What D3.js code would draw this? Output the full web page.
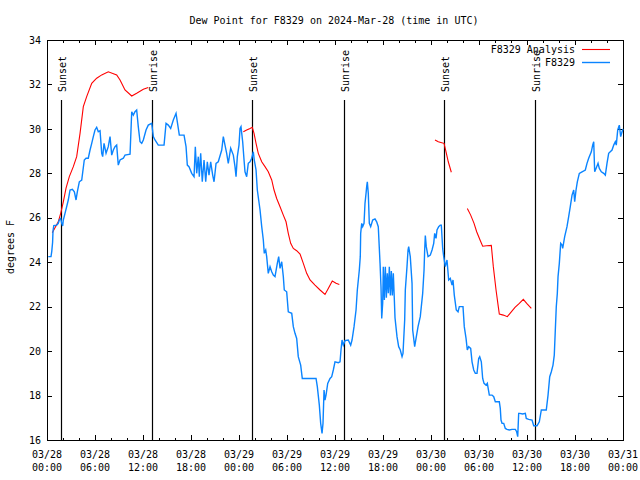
<!DOCTYPE html>
<html><head><meta charset="utf-8">
<script src="https://cdn.jsdelivr.net/npm/d3@7"></script>
<style>
body{margin:0;background:#fff}
text{font-family:"DejaVu Sans Mono",monospace;font-size:10px;fill:#000}
</style>
</head><body>
<svg id="c" width="640" height="480"></svg>
<script>
const title = "Dew Point for F8329 on 2024-Mar-28 (time in UTC)";
const yLabel = "degrees F";
const seriesNames = ["F8329 Analysis", "F8329"];
const yTicks = [16, 18, 20, 22, 24, 26, 28, 30, 32, 34];
const startUTC = "2024-03-28T00:00:00Z";
const spanHours = 72;
const sunsetHours = [1.71, 25.67, 49.67];
const sunriseHours = [13.17, 37.17, 61.05];

// observed dew point (hours since start, deg F)
const obsHours = [0.16,0.5,0.6,0.7,0.75,0.85,1.21,1.41,1.54,1.71,1.84,1.96,2.04,2.25,2.46,2.66,2.88,3.17,3.42,3.63,3.79,4.04,4.34,4.66,4.88,5.16,5.38,5.59,5.79,6.0,6.21,6.41,6.63,6.84,6.96,7.13,7.38,7.66,7.88,8.09,8.29,8.5,8.71,8.91,9.13,9.54,9.75,10.38,10.59,10.79,11.0,11.21,11.41,11.63,11.84,12.04,12.38,12.66,13.09,13.29,13.5,13.91,14.63,14.88,15.16,15.46,15.79,16.13,16.29,16.54,17.13,17.38,17.54,17.75,18.09,18.38,18.54,18.71,18.91,19.04,19.21,19.41,19.63,19.84,20.04,20.25,20.46,20.71,20.88,21.13,21.41,21.84,22.04,22.25,22.46,22.66,22.96,23.29,23.5,23.63,23.79,24.0,24.13,24.25,24.46,24.63,24.75,24.96,25.16,25.38,25.59,25.79,25.91,26.13,26.29,26.46,26.63,26.84,27.04,27.16,27.34,27.46,27.66,27.88,28.09,28.29,28.5,28.79,28.96,29.13,29.34,29.54,29.66,29.96,30.16,30.59,30.79,31.0,31.21,31.41,31.71,31.91,33.63,33.79,34.04,34.21,34.38,34.5,34.63,34.75,34.88,35.09,35.38,35.59,35.79,36.0,36.41,36.63,36.75,36.88,37.04,37.25,37.66,37.96,38.13,38.38,38.63,38.79,39.04,39.16,39.21,39.34,39.46,39.63,39.75,39.88,39.96,40.04,40.16,40.29,40.46,40.71,41.0,41.21,41.41,41.63,41.75,41.84,41.96,42.04,42.17,42.29,42.42,42.54,42.67,42.79,42.92,43.04,43.17,43.29,43.42,43.5,43.75,43.96,44.16,44.38,44.5,44.71,44.79,45.0,45.13,45.21,45.41,45.63,45.71,45.96,46.13,46.38,46.66,46.96,47.13,47.21,47.29,47.41,47.63,47.91,48.13,48.34,48.46,48.63,48.75,48.96,49.16,49.29,49.46,49.59,49.79,50.0,50.21,50.41,50.63,50.75,50.91,51.16,51.38,51.54,52.0,52.16,52.38,52.54,52.71,52.96,53.13,53.34,53.54,53.75,53.96,54.09,54.29,54.46,54.63,54.88,55.04,55.29,55.63,55.84,56.04,56.54,56.66,56.75,56.88,57.09,57.29,57.5,57.79,58.13,58.54,58.71,58.84,58.96,59.09,59.46,59.79,59.91,60.21,60.63,60.84,61.25,61.54,61.79,62.41,62.63,62.84,63.04,63.25,63.41,63.54,63.66,63.79,63.88,64.04,64.21,64.38,64.46,64.71,65.0,65.21,65.41,65.63,65.84,65.96,66.13,66.29,66.54,66.88,67.29,67.5,67.71,68.04,68.21,68.34,68.46,68.63,68.88,69.04,69.29,69.59,69.79,70.0,70.21,70.41,70.63,70.84,71.04,71.16,71.34,71.54,71.71,71.88,72.0];
const obsDew = [24.25,24.25,24.5,24.9,25.4,25.65,25.67,25.75,25.9,25.97,25.75,25.63,25.9,26.2,26.5,26.8,27.25,27.28,27.17,26.8,27.17,27.62,27.7,28.6,28.68,28.68,29.05,29.35,29.65,29.95,30.07,29.87,29.92,28.9,28.75,29.35,28.9,29.2,29.65,28.82,29.05,29.2,29.27,28.37,28.6,28.68,28.82,28.86,30.77,30.62,30.77,30.85,30.1,29.42,29.35,29.5,29.95,30.17,30.25,29.65,29.5,29.27,29.27,30.25,30.17,30.02,30.4,30.7,30.32,29.72,29.72,29.2,28.37,28.3,28.0,27.85,29.2,28.0,28.75,27.85,28.9,27.62,28.6,27.62,28.52,27.92,28.52,27.92,27.62,28.45,28.52,29.05,29.65,29.27,28.9,28.45,29.13,28.82,28.3,27.85,28.75,29.27,30.02,30.1,29.42,28.6,28.07,27.85,28.45,28.52,28.68,28.97,28.6,28.15,27.25,26.8,26.35,25.6,25.0,24.4,24.55,24.25,23.5,23.8,23.57,23.42,23.35,23.95,24.25,23.72,24.02,23.35,22.75,22.67,21.77,21.7,21.1,20.8,20.57,19.75,19.37,18.77,18.77,18.4,17.57,16.75,16.3,16.75,18.25,17.8,18.02,18.55,18.77,18.85,19.15,19.52,19.48,19.52,20.05,20.5,20.27,20.47,20.5,20.27,20.5,21.1,21.85,22.75,23.65,24.25,25.3,25.75,25.6,25.75,26.65,27.1,27.4,27.62,27.1,25.75,25.6,25.9,25.95,25.82,25.6,23.95,22.9,21.47,22.15,23.8,22.3,23.8,22.4,23.5,22.6,23.8,22.5,23.6,22.5,23.5,22.3,21.5,20.65,20.2,20.05,19.75,19.9,21.4,22.75,23.8,24.55,24.7,24.25,23.05,20.95,20.2,20.57,21.1,21.55,22.6,23.65,24.55,25.2,24.7,24.25,24.32,24.55,24.85,25.3,25.07,25.45,25.6,25.67,25.67,24.62,24.25,23.8,24.1,23.2,23.27,22.97,23.2,22.52,21.85,21.77,22.0,22.0,21.1,20.57,20.05,20.2,20.12,19.52,19.15,19.0,19.0,19.67,19.75,19.52,18.77,18.55,18.47,18.55,18.02,18.02,17.95,17.72,17.72,17.42,16.9,16.75,16.75,16.52,16.48,16.45,16.48,16.48,16.37,16.15,17.2,17.2,17.17,17.2,16.97,16.93,16.9,16.64,16.64,16.82,17.35,17.35,18.02,18.85,19.07,19.37,19.82,20.95,22.0,22.6,23.35,23.95,24.85,24.77,24.62,25.15,25.6,26.05,26.5,27.02,27.25,26.72,27.25,27.62,28.0,28.07,28.15,28.45,28.68,28.97,29.27,29.42,28.07,28.22,28.45,28.22,28.07,28.0,27.92,28.45,28.9,28.97,29.05,29.27,29.42,29.27,29.95,30.17,29.65,29.87,30.0];

// analysis dew point (null = gap)
const anaHours = [0.66,1.41,1.71,2.04,2.38,2.79,3.29,3.71,4.13,4.54,4.96,5.59,6.21,6.84,7.66,8.71,9.13,9.75,10.59,11.21,12.04,12.66,
  null,
  24.54,24.96,25.38,25.66,25.88,26.13,26.41,26.84,27.25,27.66,28.09,28.38,28.71,29.13,29.54,29.88,30.16,30.46,30.79,31.21,31.63,32.04,32.46,32.88,33.5,34.13,34.75,35.16,35.66,36.13,36.54,
  null,
  48.5,48.91,49.34,49.63,49.88,50.16,50.54,
  null,
  52.54,52.96,53.38,53.71,54.13,54.46,54.96,55.54,55.79,56.13,56.41,56.54,57.04,57.54,57.88,58.5,59.04,59.54,59.96,60.54];
const anaDew = [25.33,25.82,26.2,26.72,27.33,27.85,28.3,28.75,29.8,31.0,31.45,32.05,32.28,32.43,32.57,32.43,32.2,31.75,31.48,31.6,31.78,31.86,
  null,
  29.87,29.95,30.02,30.07,29.8,29.35,28.9,28.52,28.3,28.07,27.7,27.25,26.87,26.5,26.12,25.82,25.3,24.85,24.62,24.52,24.37,23.95,23.5,23.2,22.97,22.75,22.55,22.82,23.15,23.05,23.0,
  null,
  29.5,29.42,29.38,29.35,28.97,28.52,28.05,
  null,
  26.42,26.12,25.75,25.37,25.0,24.72,24.74,24.76,23.8,22.75,22.0,21.67,21.62,21.55,21.7,21.97,22.15,22.33,22.15,21.92];

const HOUR = 3600e3;
const t0 = new Date(startUTC);
const toDate = h => new Date(t0.getTime() + h * HOUR);

const L = 47, R = 623, T = 40, B = 440;
const svg = d3.select("#c");
const x = d3.scaleUtc().domain([t0, toDate(spanHours)]).range([L, R]);
const y = d3.scaleLinear().domain([16, 34]).range([B, T]);

const majorT = d3.utcHour.every(6).range(t0, toDate(spanHours + 0.01));
const minorT = d3.utcHour.every(2).range(t0, toDate(spanHours + 0.01)).filter(d => d.getUTCHours() % 6 !== 0);

function strip(g){ g.select(".domain").remove(); g.selectAll("line").attr("stroke","#000").attr("shape-rendering","crispEdges"); }

svg.append("g").attr("transform",`translate(0,${B})`).call(d3.axisBottom(x).tickValues(majorT).tickSize(-5).tickFormat("")).call(strip);
svg.append("g").attr("transform",`translate(0,${B})`).call(d3.axisBottom(x).tickValues(minorT).tickSize(-2.5).tickFormat("")).call(strip);
svg.append("g").attr("transform",`translate(0,${T})`).call(d3.axisTop(x).tickValues(majorT).tickSize(-5).tickFormat("")).call(strip);
svg.append("g").attr("transform",`translate(0,${T})`).call(d3.axisTop(x).tickValues(minorT).tickSize(-2.5).tickFormat("")).call(strip);
svg.append("g").attr("transform",`translate(${L},0)`).call(d3.axisLeft(y).tickValues(yTicks).tickSize(-5).tickPadding(6)).call(strip)
  .selectAll("text").style("font-family",'"DejaVu Sans Mono",monospace').style("font-size","10px").attr("fill","#000");
svg.append("g").attr("transform",`translate(${R},0)`).call(d3.axisRight(y).tickValues(yTicks).tickSize(-5).tickFormat("")).call(strip);

// x labels (two lines)
const fDay = d3.utcFormat("%m/%d"), fHr = d3.utcFormat("%H:%M");
const xl = svg.append("g");
majorT.forEach(d => {
  const t = xl.append("text").attr("x", x(d)).attr("text-anchor","middle");
  t.append("tspan").attr("x", x(d)).attr("y", 458).text(fDay(d));
  t.append("tspan").attr("x", x(d)).attr("y", 471).text(fHr(d));
});

// border
svg.append("rect").attr("x",L+0.5).attr("y",T+0.5).attr("width",R-L).attr("height",B-T)
  .attr("fill","none").attr("stroke","#000").attr("shape-rendering","crispEdges");

// sunrise / sunset
function sunLine(h, label){
  const xx = Math.round(x(toDate(h))) + 0.5;
  svg.append("line").attr("x1",xx).attr("x2",xx).attr("y1",100).attr("y2",B)
    .attr("stroke","#000").attr("stroke-width",1.2);
  svg.append("text").attr("transform",`translate(${xx+4},92) rotate(-90)`).text(label);
}
sunsetHours.forEach(h => sunLine(h, "Sunset"));
sunriseHours.forEach(h => sunLine(h, "Sunrise"));

// lines
const obs = obsHours.map((h,i) => [h, obsDew[i]]);
const ana = anaHours.map((h,i) => [h, anaDew[i]]);
const line = d3.line().defined(d => d[0] != null && d[1] != null).x(d => x(toDate(d[0]))).y(d => y(d[1]));
svg.append("path").attr("d", line(ana)).attr("fill","none").attr("stroke","#ff0000").attr("stroke-width",1.1);
svg.append("path").attr("d", line(obs)).attr("fill","none").attr("stroke","#0a84ff").attr("stroke-width",1.4);

// legend
const lg = svg.append("g");
[["#ff0000",49.5],["#0a84ff",62.5]].forEach((c,i) => {
  lg.append("text").attr("x",575).attr("y",c[1]+3.5).attr("text-anchor","end").text(seriesNames[i]);
  lg.append("line").attr("x1",582).attr("x2",610).attr("y1",c[1]).attr("y2",c[1]).attr("stroke",c[0]).attr("stroke-width",i?1.4:1.1);
});

// title & y label
svg.append("text").attr("x",334).attr("y",24).attr("text-anchor","middle").text(title);
svg.append("text").attr("transform","translate(14,247) rotate(-90)").attr("text-anchor","middle").text(yLabel);
</script>
</body></html>
